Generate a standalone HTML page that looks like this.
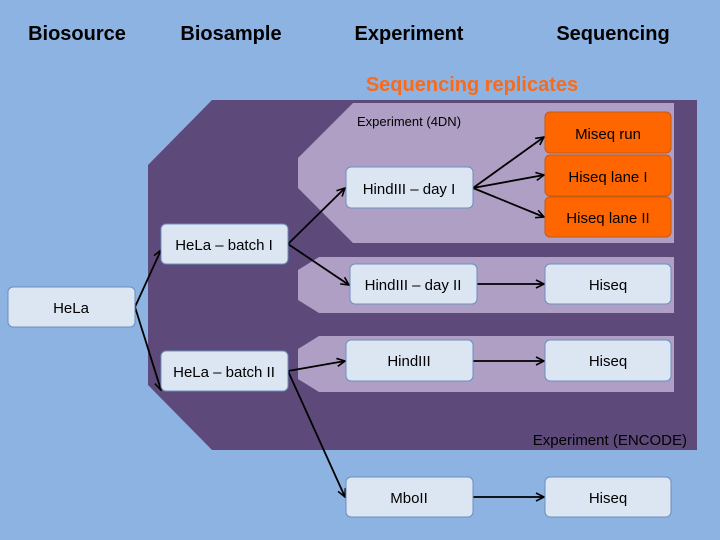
<!DOCTYPE html>
<html><head><style>
body{margin:0;width:720px;height:540px;overflow:hidden;background:#8db3e2;}
svg{display:block}
</style></head><body>
<svg width="720" height="540" viewBox="0 0 720 540" xmlns="http://www.w3.org/2000/svg">
<defs>
<marker id="a" markerWidth="10" markerHeight="10" refX="9" refY="5" orient="auto" markerUnits="userSpaceOnUse">
<path d="M1,1 L9,5 L1,9" fill="none" stroke="#000" stroke-width="1.6"/>
</marker>
</defs>
<g font-family="Liberation Sans, sans-serif" font-weight="bold" font-size="20" fill="#000">
<text x="77" y="40" text-anchor="middle">Biosource</text>
<text x="231" y="40" text-anchor="middle">Biosample</text>
<text x="409" y="40" text-anchor="middle">Experiment</text>
<text x="613" y="40" text-anchor="middle">Sequencing</text>
</g>
<text x="472" y="91" text-anchor="middle" font-family="Liberation Sans, sans-serif" font-weight="bold" font-size="20" fill="#f96a1b">Sequencing replicates</text>
<polygon points="212,100 697,100 697,450 212,450 148,385 148,165" fill="#5e4a7a"/>
<polygon points="353,103 674,103 674,243 353,243 298,188 298,158" fill="#af9fc5"/>
<polygon points="319,257 674,257 674,313 319,313 298,300 298,270" fill="#af9fc5"/>
<polygon points="319,336 674,336 674,392 319,392 298,379 298,349" fill="#af9fc5"/>
<g font-family="Liberation Sans, sans-serif" fill="#000">
<text x="357" y="126" font-size="13">Experiment (4DN)</text>
<text x="687" y="445" font-size="15" text-anchor="end">Experiment (ENCODE)</text>
</g>
<g stroke="#000" stroke-width="1.8" fill="none" marker-end="url(#a)">
<line x1="135" y1="307" x2="161" y2="250"/>
<line x1="135" y1="307" x2="161" y2="390"/>
<line x1="288" y1="244" x2="345" y2="188"/>
<line x1="288" y1="244" x2="349" y2="285"/>
<line x1="288" y1="371" x2="345" y2="361"/>
<line x1="288" y1="371" x2="345" y2="497"/>
<line x1="473" y1="188" x2="544" y2="137"/>
<line x1="473" y1="188" x2="544" y2="175"/>
<line x1="473" y1="188" x2="544" y2="217"/>
<line x1="477" y1="284" x2="544" y2="284"/>
<line x1="473" y1="361" x2="544" y2="361"/>
<line x1="473" y1="497" x2="544" y2="497"/>
</g>
<g stroke="#6c8ebf" stroke-width="1" fill="#dce6f2">
<rect x="8" y="287" width="127" height="40" rx="5"/>
<rect x="161" y="224" width="127" height="40" rx="5"/>
<rect x="161" y="351" width="127" height="40" rx="5"/>
<rect x="346" y="167" width="127" height="41" rx="5"/>
<rect x="350" y="264" width="127" height="40" rx="5"/>
<rect x="346" y="340" width="127" height="41" rx="5"/>
<rect x="346" y="477" width="127" height="40" rx="5"/>
<rect x="545" y="264" width="126" height="40" rx="5"/>
<rect x="545" y="340" width="126" height="41" rx="5"/>
<rect x="545" y="477" width="126" height="40" rx="5"/>
</g>
<g stroke="#c55a11" stroke-width="1" fill="#ff6600">
<rect x="545" y="112" width="126" height="41" rx="5"/>
<rect x="545" y="155" width="126" height="41" rx="5"/>
<rect x="545" y="197" width="126" height="40" rx="5"/>
</g>
<g font-family="Liberation Sans, sans-serif" font-size="15" fill="#000" text-anchor="middle">
<text x="71" y="313">HeLa</text>
<text x="224" y="250">HeLa – batch I</text>
<text x="224" y="377">HeLa – batch II</text>
<text x="409" y="194">HindIII – day I</text>
<text x="413" y="290">HindIII – day II</text>
<text x="409" y="366">HindIII</text>
<text x="409" y="503">MboII</text>
<text x="608" y="139">Miseq run</text>
<text x="608" y="182">Hiseq lane I</text>
<text x="608" y="223">Hiseq lane II</text>
<text x="608" y="290">Hiseq</text>
<text x="608" y="366">Hiseq</text>
<text x="608" y="503">Hiseq</text>
</g>
</svg>
</body></html>
